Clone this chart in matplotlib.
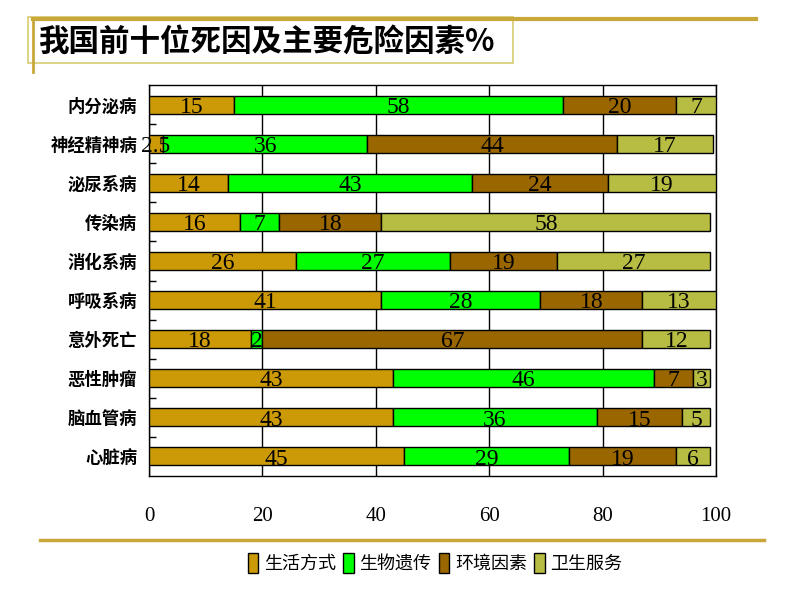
import matplotlib
matplotlib.use("Agg")
import matplotlib.pyplot as plt
import numpy as np
from matplotlib.lines import Line2D
from matplotlib.patches import Rectangle

plt.rcParams['font.family'] = ['Noto Sans CJK SC', 'DejaVu Sans']

categories = ["内分泌病", "神经精神病", "泌尿系病", "传染病", "消化系病",
              "呼吸系病", "意外死亡", "恶性肿瘤", "脑血管病", "心脏病"]
series_names = ["生活方式", "生物遗传", "环境因素", "卫生服务"]
lifestyle = [15, 2.5, 14, 16, 26, 41, 18, 43, 43, 45]
genetic = [58, 36, 43, 7, 27, 28, 2, 46, 36, 29]
environment = [20, 44, 24, 18, 19, 18, 67, 7, 15, 19]
health_service = [7, 17, 19, 58, 27, 13, 12, 3, 5, 6]
label_texts = [
    ["15", "2.5", "14", "16", "26", "41", "18", "43", "43", "45"],
    ["58", "36", "43", "7", "27", "28", "2", "46", "36", "29"],
    ["20", "44", "24", "18", "19", "18", "67", "7", "15", "19"],
    ["7", "17", "19", "58", "27", "13", "12", "3", "5", "6"],
]
xticks = [0, 20, 40, 60, 80, 100]
title = "我国前十位死因及主要危险因素%"

colors = ["#CC9A06", "#00FF00", "#996600", "#B7BD42"]

fig = plt.figure(figsize=(8, 6), dpi=100)
ax = fig.add_axes([149/800, 1-476/600, (716-149)/800, (476-85)/600])

series = [lifestyle, genetic, environment, health_service]
y = np.arange(len(categories))[::-1]
left = np.zeros(len(categories))
for vals, col, name, texts in zip(series, colors, series_names, label_texts):
    vals = np.array(vals, dtype=float)
    ax.barh(y, vals, left=left, height=0.46, color=col, edgecolor="black",
            linewidth=1.0, label=name, zorder=3)
    for yi, l, v, t in zip(y, left, vals, texts):
        ax.text(l + v/2, yi - 0.07, t, ha="center", va="center",
                family="Liberation Serif", fontsize=17, zorder=5)
    left = left + vals

ax.set_xlim(0, 100)
ax.set_ylim(-0.5, len(categories) - 0.5)
ax.set_yticks(y)
ax.set_yticklabels(categories, fontsize=12.5, fontweight="bold")
ax.tick_params(axis="y", length=0, pad=8.5)
ax.set_yticks(np.arange(len(categories) - 1) + 0.5, minor=True)
ax.tick_params(axis="y", which="minor", direction="in", length=5, width=1)
ax.set_xticks(xticks)
ax.set_xticklabels([str(t) for t in xticks], family="Liberation Serif", fontsize=15)
ax.tick_params(axis="x", length=0, pad=22)
ax.grid(axis="x", color="black", linewidth=1.0, zorder=0)
for s in ax.spines.values():
    s.set_linewidth(1.0)
    s.set_color("black")

# legend
leg = fig.legend(loc="center", bbox_to_anchor=(435/800, 1-563/600), ncol=4,
                 frameon=False, fontsize=13, handlelength=0.6, handleheight=1.3,
                 handletextpad=0.3, columnspacing=0.4)

# decorations
gold = "#C8A838"
fig.add_artist(Line2D([33/800, 756/800], [1-19/600, 1-19/600], color=gold, lw=3,
                      transform=fig.transFigure))
fig.add_artist(Line2D([33/800, 33/800], [1-19/600, 1-72/600], color=gold, lw=2,
                      transform=fig.transFigure))
fig.add_artist(Rectangle((28/800, 1-63/600), (513-28)/800, (63-17)/600,
                         fill=False, edgecolor="#D8CC70", lw=1.2,
                         transform=fig.transFigure))
fig.add_artist(Line2D([40/800, 764/800], [1-540/600, 1-540/600], color=gold, lw=2.5,
                      transform=fig.transFigure))
fig.text(38/800, 1-42/600, title, fontsize=22, va="center", ha="left",
         fontweight="bold", family=["Noto Sans CJK SC", "DejaVu Sans"])

fig.savefig("out.png", dpi=100)
